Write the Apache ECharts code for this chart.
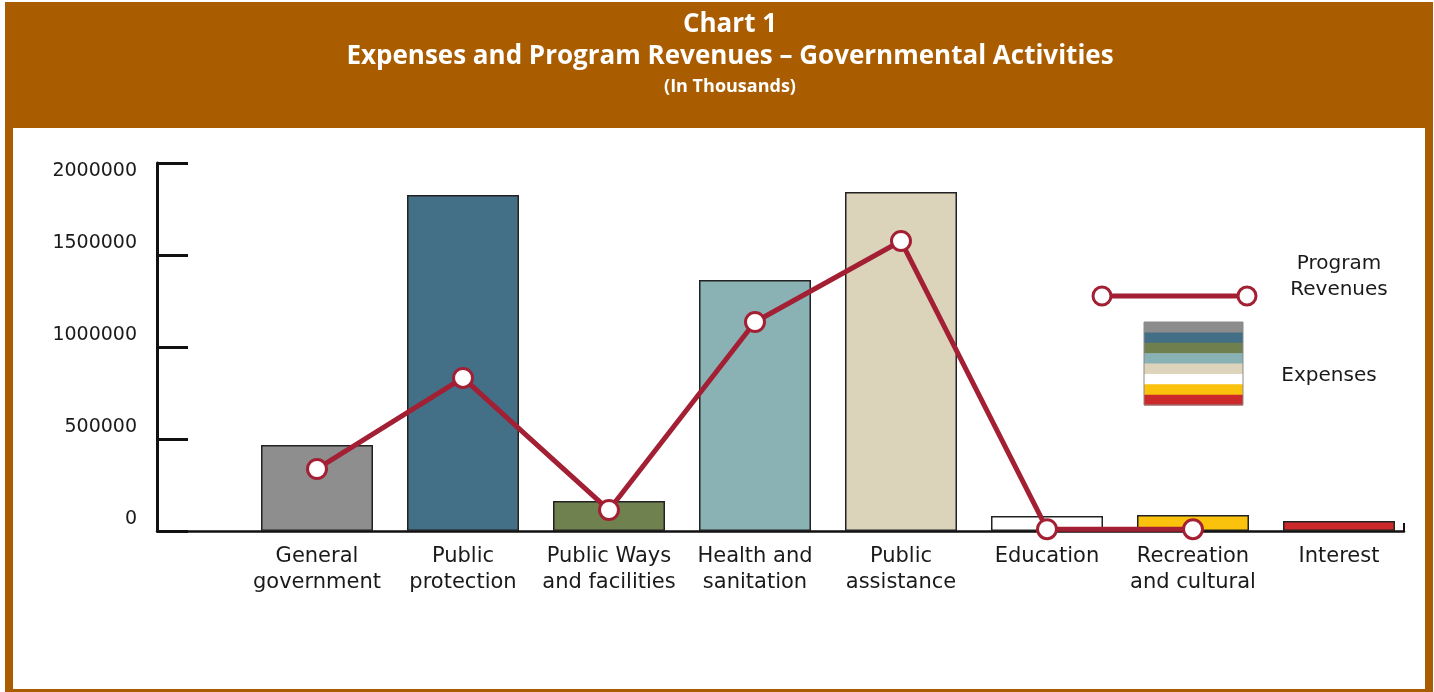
<!DOCTYPE html>
<html>
<head>
<meta charset="utf-8">
<script src="https://cdn.jsdelivr.net/npm/echarts@6/dist/echarts.min.js"></script>
<style>
html,body{margin:0;padding:0;background:#fff;}
#chart{width:1434px;height:692px;}
</style>
</head>
<body>
<div id="chart"></div>
<script>
const categories = ['General\ngovernment','Public\nprotection','Public Ways\nand facilities','Health and\nsanitation','Public\nassistance','Education','Recreation\nand cultural','Interest'];
const expenses = [467000, 1826000, 163000, 1364000, 1842000, 82000, 87000, 54000];
const programRevenues = [337000, 832000, 114000, 1136000, 1576000, 10000, 10000, null];
const yTicks = [0, 500000, 1000000, 1500000, 2000000];

const barColors = ['#8E8E8E','#436F87','#708150','#8AB2B5','#DCD3BB','#FFFFFF','#FBC20D','#CC2A2A'];
const stripeColors = ['#8C8C8C','#426E86','#6F7F4E','#89B2B5','#DDD4BB','#FFFFFF','#FBC20D','#CC2A2A'];
const brown = '#A95C00';
const crimson = '#A31F34';
const font = 'DejaVu Sans';

const chart = echarts.init(document.getElementById('chart'));

const graphics = [
  {type:'rect', shape:{x:5,y:2,width:1428,height:126}, style:{fill:brown}, silent:true},
  {type:'rect', shape:{x:5,y:128,width:8,height:564}, style:{fill:brown}, silent:true},
  {type:'rect', shape:{x:1425,y:128,width:8,height:564}, style:{fill:brown}, silent:true},
  {type:'rect', shape:{x:5,y:689,width:1428,height:3}, style:{fill:brown}, silent:true},
  {type:'text', x:730, y:25, style:{text:'Chart 1', fill:'#fff', font:'bold 26px "Open Sans"', align:'center', verticalAlign:'middle'}},
  {type:'text', x:730, y:57, style:{text:'Expenses and Program Revenues \u2013 Governmental Activities', fill:'#fff', font:'bold 26px "Open Sans"', align:'center', verticalAlign:'middle'}},
  {type:'text', x:730, y:87, style:{text:'(In Thousands)', fill:'#fff', font:'bold 18px "Open Sans"', align:'center', verticalAlign:'middle'}},
  // legend: program revenues
  {type:'line', shape:{x1:1102,y1:296,x2:1247,y2:296}, style:{stroke:crimson,lineWidth:5}, z:10},
  {type:'circle', shape:{cx:1102,cy:296,r:9}, style:{fill:'#fff',stroke:crimson,lineWidth:3}, z:11},
  {type:'circle', shape:{cx:1247,cy:296,r:9}, style:{fill:'#fff',stroke:crimson,lineWidth:3}, z:11},
  {type:'text', x:1339, y:264, style:{text:'Program', fill:'#1a1a1a', font:'20px "'+font+'"', align:'center', verticalAlign:'middle'}},
  {type:'text', x:1339, y:290, style:{text:'Revenues', fill:'#1a1a1a', font:'20px "'+font+'"', align:'center', verticalAlign:'middle'}},
  {type:'text', x:1329, y:376, style:{text:'Expenses', fill:'#1a1a1a', font:'20px "'+font+'"', align:'center', verticalAlign:'middle'}}
];
const sx = 1144, sy = 322, sw = 99, sh = 83;
stripeColors.forEach((c, i) => {
  graphics.push({type:'rect', shape:{x:sx, y:sy + i*sh/8, width:sw, height:sh/8 + 0.5}, style:{fill:c}, z:10});
});
graphics.push({type:'rect', shape:{x:sx, y:sy, width:sw, height:sh}, style:{fill:'none', stroke:'#8a8a8a', lineWidth:1}, z:11});

const option = {
  backgroundColor:'#fff',
  animation:false,
  graphic: graphics,
  grid:[
    {left:244, right:22, top:163, bottom:161},
    {left:157, right:30, top:163, bottom:161}
  ],
  xAxis:[
    {type:'category', gridIndex:0, data:categories, boundaryGap:true,
     axisLine:{show:false}, axisTick:{show:false},
     axisLabel:{interval:0, margin:13, fontFamily:font, fontSize:21, lineHeight:26, color:'#1a1a1a'}},
    {type:'value', gridIndex:1, min:0, max:1, interval:1,
     axisLine:{show:true, lineStyle:{color:'#111', width:2.5}},
     axisTick:{show:true, inside:true, length:8, lineStyle:{color:'#111', width:2}},
     axisLabel:{show:false}, splitLine:{show:false}}
  ],
  yAxis:[
    {type:'value', gridIndex:0, min:0, max:2000000, interval:500000, show:false, splitLine:{show:false}},
    {type:'value', gridIndex:1, min:yTicks[0], max:yTicks[yTicks.length-1], interval:yTicks[1]-yTicks[0],
     axisLine:{show:true, lineStyle:{color:'#111', width:3}},
     axisTick:{show:true, inside:true, length:31, lineStyle:{color:'#111', width:3}},
     axisLabel:{margin:20, fontFamily:font, fontSize:19, color:'#1a1a1a', verticalAlign:'middle',
       formatter: v => (v === yTicks[yTicks.length-1] ? '{t|' + v + '}' : '{b|' + v + '}'),
       rich:{
         t:{fontFamily:font, fontSize:19, color:'#1a1a1a', padding:[16,0,0,0]},
         b:{fontFamily:font, fontSize:19, color:'#1a1a1a', padding:[0,0,24,0]}
       }},
     splitLine:{show:false}}
  ],
  series:[
    {type:'bar', name:'Expenses', xAxisIndex:0, yAxisIndex:0, barWidth:112,
     data: expenses.map((v, i) => ({value:v, itemStyle:{color:barColors[i]}})),
     itemStyle:{borderColor:'#222', borderWidth:1.5}, z:2},
    {type:'line', name:'Program Revenues', xAxisIndex:0, yAxisIndex:0, data:programRevenues,
     symbol:'circle', symbolSize:19, connectNulls:false,
     lineStyle:{color:crimson, width:5},
     itemStyle:{color:'#fff', borderColor:crimson, borderWidth:3}, z:5}
  ]
};
chart.setOption(option);
</script>
</body>
</html>
